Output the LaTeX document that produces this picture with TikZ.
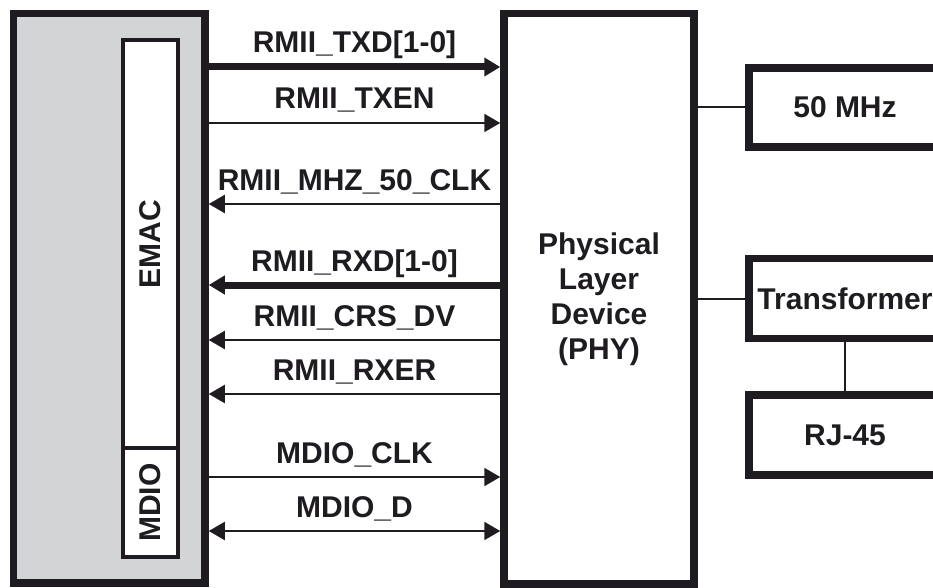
\documentclass[tikz,border=0pt]{standalone}
\usepackage{fontspec}
\setmainfont{Liberation Sans}
\usetikzlibrary{arrows.meta}
\definecolor{socgray}{RGB}{211,212,214}
\definecolor{ink}{RGB}{30,28,32}
\begin{document}
\begin{tikzpicture}[x=1pt,y=-1pt,
  txt/.style={font=\fontsize{30}{35}\selectfont\bfseries, text=ink},
  box/.style={draw=ink, line width=7.5pt, inner sep=0pt, txt},
  inbox/.style={draw=ink, line width=3.5pt, fill=white, inner sep=0pt, txt},
  sig/.style={draw=ink, line width=2pt},
  fat/.style={draw=ink, line width=7pt},
  conn/.style={draw=ink, line width=2pt},
  hd/.tip={Triangle[length=16pt,width=18pt]},
  lbl/.style={txt, anchor=base, yshift=14pt, inner sep=0pt}]
\useasboundingbox (0,0) rectangle (933,588);
\clip (0,0) rectangle (933,588);
% SoC block
\node[box, fill=socgray, minimum width=191.5pt, minimum height=569.5pt] (soc) at (109.25,298.25) {};
\node[inbox, rotate=90, minimum width=408pt, minimum height=55pt] (emac) at (150.5,244) {EMAC};
\node[inbox, rotate=90, minimum width=109pt, minimum height=55pt] (mdio) at (150.5,502.5) {MDIO};
% PHY
\node[box, fill=white, align=center, minimum width=190pt, minimum height=570.5pt] (phy) at (599,298.75) {Physical\\Layer\\Device\\(PHY)};
% right blocks
\node[box, fill=white, minimum width=192pt, minimum height=79pt] (osc) at (845,107.5) {50 MHz};
\node[box, fill=white, minimum width=192pt, minimum height=80pt] (trans) at (845,298.5) {Transformer};
\node[box, fill=white, minimum width=192pt, minimum height=80pt] (rj) at (845,435) {RJ-45};
\draw[conn] (phy.east |- osc.west) -- (osc.west);
\draw[conn] (phy.east |- trans.west) -- (trans.west);
\draw[conn] (trans.south) -- (rj.north);
% signals
\draw[fat, -hd] (soc.east |- 0,67) -- node[lbl]{RMII\_TXD[1-0]} (phy.west |- 0,67);
\draw[sig, -hd] (soc.east |- 0,123) -- node[lbl]{RMII\_TXEN} (phy.west |- 0,123);
\draw[sig, hd-] (soc.east |- 0,204) -- node[lbl]{RMII\_MHZ\_50\_CLK} (phy.west |- 0,204);
\draw[fat, hd-] (soc.east |- 0,285) -- node[lbl]{RMII\_RXD[1-0]} (phy.west |- 0,285);
\draw[sig, hd-] (soc.east |- 0,340) -- node[lbl]{RMII\_CRS\_DV} (phy.west |- 0,340);
\draw[sig, hd-] (soc.east |- 0,394) -- node[lbl]{RMII\_RXER} (phy.west |- 0,394);
\draw[sig, -hd] (soc.east |- 0,477) -- node[lbl]{MDIO\_CLK} (phy.west |- 0,477);
\draw[sig, hd-hd] (soc.east |- 0,531) -- node[lbl]{MDIO\_D} (phy.west |- 0,531);
\end{tikzpicture}
\end{document}
